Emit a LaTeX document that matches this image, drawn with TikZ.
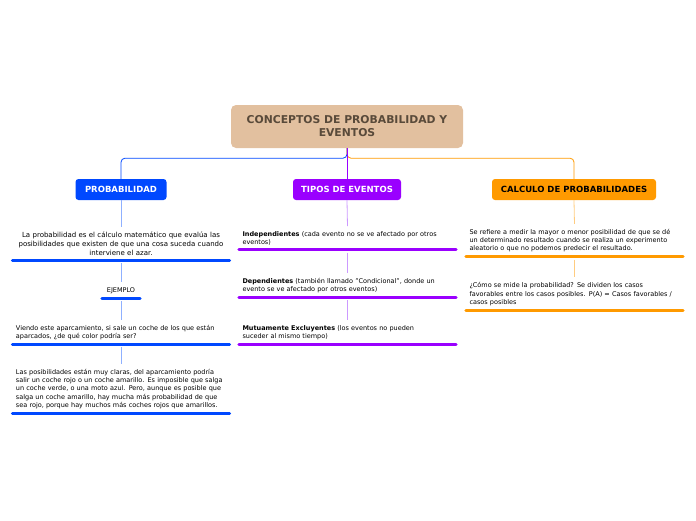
\documentclass[tikz,border=0pt]{standalone}
\usepackage{fontspec}
\setmainfont{DejaVu Sans}
\usetikzlibrary{positioning}
\definecolor{rootfill}{HTML}{E2C09F}
\definecolor{roottext}{HTML}{594A3A}
\definecolor{probblue}{HTML}{0048FF}
\definecolor{tipospurple}{HTML}{9A00FF}
\definecolor{calcorange}{HTML}{FF9A00}
\definecolor{blueline}{HTML}{8FB0FF}
\definecolor{purpleline}{HTML}{CC99FF}
\definecolor{orangeline}{HTML}{FFCC80}
\begin{document}
\begin{tikzpicture}
 [x=1pt,y=-1pt,
 rootbox/.style={rectangle, rounded corners=5pt, fill=rootfill, text=roottext, font=\bfseries\fontsize{10.8}{13}\selectfont, align=center, minimum width=232pt, minimum height=43pt},
 topicbox/.style={rectangle, rounded corners=3pt, minimum height=21pt, inner xsep=2pt, font=\bfseries\fontsize{8.5}{10}\selectfont},
 itembox/.style={anchor=south, text width=210pt, inner xsep=5pt, inner ysep=4pt, font=\fontsize{6.5}{8.3}\selectfont},
 tagbox/.style={anchor=south, minimum width=41pt, inner xsep=0pt, inner ysep=4pt, font=\fontsize{6.5}{8}\selectfont},
 bar/.style={line width=3pt, line cap=round, shorten <=1.5pt, shorten >=1.5pt},
 rootlink/.style={line width=0.8pt},
 link/.style={line width=0.8pt, shorten <=3pt, shorten >=1pt}
 ]
 \useasboundingbox (0,0) rectangle (696,520);
 \node at (347,126.5) [rootbox] (root) {CONCEPTOS DE PROBABILIDAD Y\\EVENTOS};
 \node at (121,189.5) [topicbox, fill=probblue, text=white, minimum width=91pt] (prob) {PROBABILIDAD};
 \node at (347,189.5) [topicbox, fill=tipospurple, text=white, minimum width=108pt] (tipos) {TIPOS DE EVENTOS};
 \node at (574,189.5) [topicbox, fill=calcorange, text=black, minimum width=164pt] (calc) {CALCULO DE PROBABILIDADES};
 % probabilidad
 \node at (121,260) [itembox, align=center, font=\fontsize{7}{9}\selectfont] (def) {La probabilidad es el cálculo matemático que evalúa las\\posibilidades que existen de que una cosa suceda cuando\\interviene el azar.};
 \node at (121,298) [tagbox] (ejemplo) {EJEMPLO};
 \node at (121,344) [itembox, align=left] (viendo) {Viendo este aparcamiento, si sale un coche de los que están\\aparcados, ¿de qué color podría ser?};
 \node at (121,413) [itembox, align=left] (posib) {Las posibilidades están muy claras, del aparcamiento podría\\salir un coche rojo o un coche amarillo. Es imposible que salga\\un coche verde, o una moto azul. Pero, aunque es posible que\\salga un coche amarillo, hay mucha más probabilidad de que\\sea rojo, porque hay muchos más coches rojos que amarillos.};
 % tipos de eventos
 \node at (347.5,249.5) [itembox, align=left] (indep) {\textbf{Independientes} (cada evento no se ve afectado por otros\\eventos)};
 \node at (347.5,297) [itembox, align=left] (dep) {\textbf{Dependientes} (también llamado "Condicional", donde un\\evento se ve afectado por otros eventos)};
 \node at (347.5,344) [itembox, align=left] (mutuo) {\textbf{Mutuamente Excluyentes} (los eventos no pueden\\suceder al mismo tiempo)};
 % calculo
 \node at (574.5,256.5) [itembox, align=left] (mide) {Se refiere a medir la mayor o menor posibilidad de que se dé\\un determinado resultado cuando se realiza un experimento\\aleatorio o que no podemos predecir el resultado.};
 \node at (574.5,310) [itembox, align=left] (como) {¿Cómo se mide la probabilidad? Se dividen los casos\\favorables entre los casos posibles. P(A) = Casos favorables /\\casos posibles};
 \foreach \n/\c in {def/probblue, ejemplo/probblue, viendo/probblue, posib/probblue, indep/tipospurple, dep/tipospurple, mutuo/tipospurple, mide/calcorange, como/calcorange}
  \draw[bar, \c] (\n.south west) -- (\n.south east);
 \draw[rootlink, probblue, rounded corners=4pt] (root.south) -- ++(0,10) -| (prob.north);
 \draw[rootlink, calcorange, rounded corners=4pt] (root.south) -- ++(0,10) -| (calc.north);
 \draw[rootlink, tipospurple] (root.south) -- (tipos.north);
 \draw[link, blueline, shorten <=0pt] (prob.south) -- (def.north);
 \foreach \a/\b in {def/ejemplo, ejemplo/viendo, viendo/posib}
  \draw[link, blueline] (\a.south) -- (\b.north);
 \draw[link, purpleline, shorten <=0pt] (tipos.south) -- (indep.north);
 \foreach \a/\b in {indep/dep, dep/mutuo}
  \draw[link, purpleline] (\a.south) -- (\b.north);
 \draw[link, orangeline, shorten <=0pt] (calc.south) -- (mide.north);
 \draw[link, orangeline] (mide.south) -- (como.north);
\end{tikzpicture}
\end{document}
